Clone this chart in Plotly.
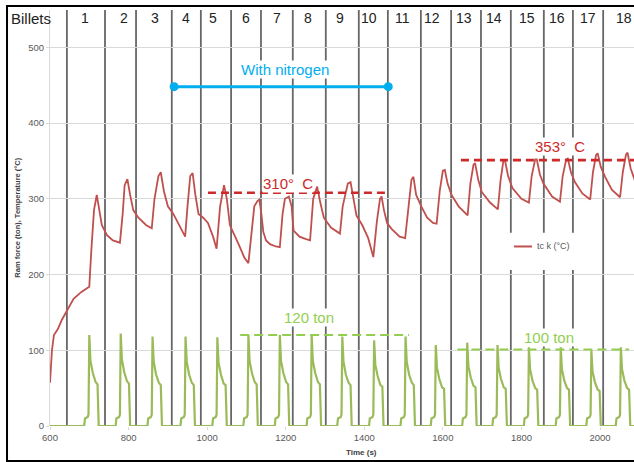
import plotly.graph_objects as go

# ---------------- data ----------------
temp_time = [600, 605, 610, 620, 630, 645, 660, 680, 700, 705, 712, 719, 724, 732, 745, 760, 778,
             785, 790, 797, 804, 812, 825, 845, 859, 866, 876, 882, 890, 900, 914, 930, 944,
             950, 957, 963, 970, 978, 990, 1002, 1015, 1024, 1033, 1043, 1050, 1058, 1066, 1080,
             1095, 1105, 1112, 1120, 1128, 1133, 1138, 1143, 1150, 1160, 1175, 1185, 1192, 1198,
             1208, 1215, 1220, 1235, 1250, 1262, 1270, 1280, 1288, 1297, 1315, 1338, 1345, 1358,
             1365, 1372, 1380, 1395, 1410, 1423, 1432, 1440, 1444, 1450, 1458, 1470, 1490, 1504,
             1512, 1520, 1525, 1532, 1546, 1560, 1575, 1584, 1592, 1600, 1605, 1612, 1622, 1640,
             1663, 1670, 1678, 1682, 1690, 1699, 1720, 1740, 1747, 1754, 1758, 1766, 1777, 1800,
             1819, 1826, 1835, 1839, 1847, 1856, 1878, 1898, 1905, 1914, 1918, 1926, 1936, 1955,
             1975, 1982, 1990, 1994, 2002, 2013, 2030, 2051, 2058, 2066, 2070, 2078, 2090]
temp_value = [57, 100, 120, 128, 140, 155, 168, 177, 184, 230, 285, 305, 290, 265, 252, 245, 242,
              280, 318, 326, 305, 285, 275, 265, 261, 300, 330, 335, 310, 290, 280, 265, 250,
              290, 330, 334, 305, 280, 275, 268, 250, 234, 290, 318, 300, 265, 255, 240,
              222, 215, 250, 290, 297, 299, 280, 256, 245, 240, 237, 236, 280, 300,
              303, 290, 258, 250, 247, 245, 300, 316, 295, 275, 262, 254, 290, 320,
              322, 300, 278, 265, 248, 223, 270, 300, 303, 285, 268, 260, 250, 248,
              290, 325, 329, 305, 289, 275, 268, 267, 310, 337, 338, 320, 305, 290,
              278, 320, 345, 347, 325, 309, 295, 286, 325, 350, 351, 330, 314, 300,
              295, 330, 352, 352, 332, 320, 303, 296, 330, 352, 353, 335, 322, 307,
              299, 335, 358, 360, 342, 329, 312, 302, 335, 358, 361, 340, 322]

force_time = [600,
              687, 689, 696, 698, 700, 703, 709, 716, 721, 724,
              767, 769, 776, 778, 780, 783, 789, 796, 801, 804,
              848, 850, 857, 859, 861, 864, 870, 877, 882, 885,
              932, 934, 941, 943, 945, 948, 954, 961, 966, 969,
              1013, 1015, 1022, 1024, 1026, 1029, 1035, 1042, 1047, 1050,
              1092, 1094, 1101, 1103, 1105, 1108, 1114, 1121, 1126, 1129,
              1172, 1174, 1181, 1183, 1185, 1188, 1194, 1201, 1206, 1209,
              1253, 1255, 1262, 1264, 1266, 1269, 1275, 1282, 1287, 1290,
              1331, 1333, 1340, 1342, 1344, 1347, 1353, 1360, 1365, 1368,
              1412, 1414, 1421, 1423, 1425, 1428, 1434, 1441, 1446, 1449,
              1492, 1494, 1501, 1503, 1505, 1508, 1514, 1521, 1526, 1529,
              1569, 1571, 1578, 1580, 1582, 1585, 1591, 1598, 1603, 1606,
              1649, 1651, 1658, 1660, 1662, 1665, 1671, 1678, 1683, 1686,
              1726, 1728, 1735, 1737, 1739, 1742, 1748, 1755, 1760, 1763,
              1806, 1808, 1815, 1817, 1819, 1822, 1828, 1835, 1840, 1843,
              1887, 1889, 1896, 1898, 1900, 1903, 1909, 1916, 1921, 1924,
              1965, 1967, 1974, 1976, 1978, 1981, 1987, 1994, 1999, 2002,
              2040, 2042, 2049, 2051, 2053, 2056, 2062, 2069, 2074, 2077,
              2090]
force_value = [0,
               0, 10, 12, 15, 120, 86, 70, 58, 55, 0,
               0, 10, 12, 15, 122, 88, 71, 59, 56, 0,
               0, 10, 12, 15, 118, 85, 68, 57, 54, 0,
               0, 10, 12, 15, 118, 85, 68, 57, 54, 0,
               0, 10, 12, 15, 117, 84, 68, 56, 54, 0,
               0, 10, 12, 15, 120, 86, 70, 58, 55, 0,
               0, 10, 12, 15, 120, 86, 70, 58, 55, 0,
               0, 10, 12, 15, 120, 86, 70, 58, 55, 0,
               0, 10, 12, 15, 118, 85, 68, 57, 54, 0,
               0, 10, 12, 15, 113, 81, 66, 54, 52, 0,
               0, 10, 12, 15, 118, 85, 68, 57, 54, 0,
               0, 10, 12, 15, 107, 77, 62, 51, 49, 0,
               0, 10, 12, 15, 110, 79, 64, 53, 51, 0,
               0, 10, 12, 15, 107, 77, 62, 51, 49, 0,
               0, 10, 12, 15, 104, 75, 60, 50, 48, 0,
               0, 10, 12, 15, 104, 75, 60, 50, 48, 0,
               0, 10, 12, 15, 100, 72, 58, 48, 46, 0,
               0, 10, 12, 15, 104, 75, 60, 50, 48, 0,
               0]

billet_boundaries = [643, 740, 819, 910, 984, 1061, 1137, 1218, 1302, 1386, 1460,
                     1544, 1621, 1697, 1773, 1857, 1931, 2008]
billet_labels = [str(i) for i in range(1, 19)]
billet_label_time = [689, 788, 867, 946, 1015, 1099, 1178, 1257, 1338, 1412, 1498,
                     1572, 1654, 1730, 1814, 1891, 1969, 2061]

x_ticks = [600, 800, 1000, 1200, 1400, 1600, 1800, 2000]
y_ticks = [0, 100, 200, 300, 400, 500]

temp310_span, temp310_value, temp310_label = [1002, 1461], 308, "310°  C"
temp353_span, temp353_value, temp353_label = [1646, 2090], 351, "353°  C"
force120_span, force120_value, force120_label = [1084, 1514], 120, "120 ton"
force100_span, force100_value, force100_label = [1637, 2074], 101, "100 ton"
nitrogen_span, nitrogen_value, nitrogen_label = [916, 1461], 448, "With nitrogen"

# ---------------- styling ----------------
FONT = "Arial, Liberation Sans, sans-serif"
RED = "#c0504d"
RED_DARK = "#cc2a2a"
GREEN = "#9bbb59"
GREEN_LIGHT = "#92cf50"
BLUE = "#00aeef"
GRID = "#d9d9d9"
TICK = "#595959"
VLINE = "#676767"

X_RANGE = [600, 2086.5]
Y_RANGE = [0, 549.2]

fig = go.Figure()

fig.add_trace(go.Scatter(x=force_time, y=force_value, mode="lines",
                         line=dict(color=GREEN, width=2.2), name="Ram force (ton)",
                         showlegend=False, hoverinfo="skip"))
fig.add_trace(go.Scatter(x=temp_time, y=temp_value, mode="lines",
                         line=dict(color=RED, width=1.8), name="tc k (°C)",
                         showlegend=False))

# reference dashed lines
fig.add_trace(go.Scatter(x=temp310_span, y=[temp310_value] * 2, mode="lines",
                         line=dict(color=RED_DARK, width=2.6, dash="8px,5px"),
                         showlegend=False, hoverinfo="skip"))
fig.add_trace(go.Scatter(x=temp353_span, y=[temp353_value] * 2, mode="lines",
                         line=dict(color=RED_DARK, width=2.6, dash="8px,5px"),
                         showlegend=False, hoverinfo="skip"))
fig.add_trace(go.Scatter(x=force120_span, y=[force120_value] * 2, mode="lines",
                         line=dict(color=GREEN_LIGHT, width=2, dash="9px,5px"),
                         showlegend=False, hoverinfo="skip"))
fig.add_trace(go.Scatter(x=force100_span, y=[force100_value] * 2, mode="lines",
                         line=dict(color=GREEN_LIGHT, width=2, dash="9px,5px"),
                         showlegend=False, hoverinfo="skip"))
fig.add_trace(go.Scatter(x=nitrogen_span, y=[nitrogen_value] * 2, mode="lines+markers",
                         line=dict(color=BLUE, width=3), marker=dict(color=BLUE, size=9),
                         showlegend=False, hoverinfo="skip"))

shapes = []
for t in billet_boundaries:
    shapes.append(dict(type="line", xref="x", yref="paper", x0=t, x1=t, y0=0, y1=1,
                       line=dict(color=VLINE, width=1.8), layer="between"))

# legend gap (white) and manual legend
shapes.append(dict(type="rect", xref="x", yref="y", x0=1760, x1=1947, y0=206, y1=255,
                   fillcolor="white", line=dict(width=0), layer="between"))
shapes.append(dict(type="line", xref="x", yref="y", x0=1781, x1=1827, y0=237, y1=237,
                   line=dict(color=RED, width=2), layer="above"))

# outer frame of the figure
shapes.append(dict(type="rect", xref="paper", yref="paper", x0=-0.0736, x1=1.03,
                   y0=-0.0841, y1=1.0096, line=dict(color="black", width=2),
                   fillcolor="rgba(0,0,0,0)", layer="above"))

annotations = []
for lab, t in zip(billet_labels, billet_label_time):
    annotations.append(dict(x=t, y=538.5, xref="x", yref="y", text=lab, showarrow=False,
                            font=dict(family=FONT, size=14, color="#222222"),
                            xanchor="center", yanchor="middle"))
annotations.append(dict(x=-0.0325, y=538.5, xref="paper", yref="y", text="Billets",
                        showarrow=False, font=dict(family=FONT, size=15, color="#222222"),
                        xanchor="center", yanchor="middle"))

label_style = dict(showarrow=False, xref="x", yref="y", bgcolor="white", borderpad=0,
                   xanchor="center", yanchor="middle")
annotations.append(dict(x=1206, y=320, text=temp310_label,
                        font=dict(family=FONT, size=15, color=RED_DARK), **label_style))
annotations.append(dict(x=1898, y=368.5, text=temp353_label,
                        font=dict(family=FONT, size=15, color=RED_DARK), **label_style))
annotations.append(dict(x=1259, y=143.5, text=force120_label,
                        font=dict(family=FONT, size=15, color=GREEN_LIGHT), **label_style))
annotations.append(dict(x=1870, y=117.5, text=force100_label,
                        font=dict(family=FONT, size=15, color=GREEN_LIGHT), **label_style))
annotations.append(dict(x=1198, y=470, text=nitrogen_label,
                        font=dict(family=FONT, size=15, color=BLUE), **label_style))

annotations.append(dict(x=1834, y=237, xref="x", yref="y", text="tc k (°C)", showarrow=False,
                        font=dict(family=FONT, size=9, color=TICK),
                        xanchor="left", yanchor="middle"))

annotations.append(dict(x=-0.057, y=0.5, xref="paper", yref="paper",
                        text="<b>Ram force (ton), Temperature (°C)</b>", textangle=-90,
                        showarrow=False, font=dict(family=FONT, size=7.5, color="#404040"),
                        xanchor="center", yanchor="middle"))
annotations.append(dict(x=0.534, y=-0.064, xref="paper", yref="paper",
                        text="<b>Time (s)</b>", showarrow=False,
                        font=dict(family=FONT, size=8, color="#404040"),
                        xanchor="center", yanchor="middle"))

fig.update_layout(
    width=634, height=462,
    margin=dict(l=50, r=0, t=10, b=36),
    paper_bgcolor="white", plot_bgcolor="white",
    shapes=shapes, annotations=annotations,
    showlegend=False,
    xaxis=dict(range=X_RANGE, tickvals=x_ticks, showgrid=False, zeroline=False,
               showline=False, ticks="outside", ticklen=3, tickcolor=GRID,
               tickfont=dict(family=FONT, size=9.5, color=TICK)),
    yaxis=dict(range=Y_RANGE, tickvals=y_ticks, showgrid=True, gridcolor=GRID,
               gridwidth=1, zeroline=False, showline=True, linecolor=GRID,
               ticks="outside", ticklen=3, tickcolor=GRID,
               tickfont=dict(family=FONT, size=9.5, color=TICK)),
)

fig.write_html("out.html")
